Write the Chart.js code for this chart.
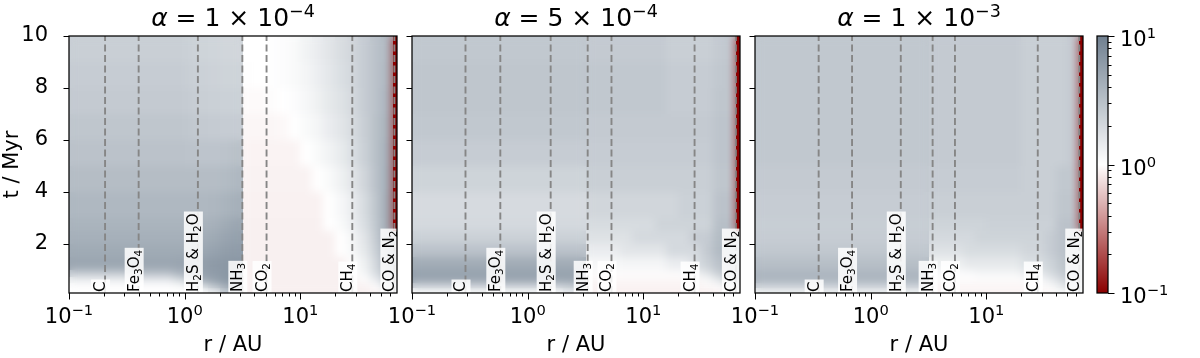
<!DOCTYPE html>
<html lang="es">
<head>
<meta charset="utf-8">
<title>N/H vs r, t</title>
<script src="https://cdn.jsdelivr.net/npm/chart.js@4.4.1/dist/chart.umd.min.js"></script>
<style>
  html, body { margin: 0; padding: 0; background: #fff; }
  #fig { position: relative; width: 1200px; height: 358px; overflow: hidden; background: #fff; }
  #fig canvas { position: absolute; top: 0; }
</style>
</head>
<body>
<div id="fig">
  <canvas id="p1" width="402" height="358" style="left:0px"></canvas>
  <canvas id="p2" width="375" height="358" style="left:370px"></canvas>
  <canvas id="p3" width="375" height="358" style="left:713px"></canvas>
  <canvas id="cb" width="110" height="358" style="left:1090px"></canvas>
</div>
<script>
// Datos: (N/H)/(N/H)_star en r (AU) y t (Myr)

const rEdges = [0.1, 0.126, 0.158, 0.2, 0.251, 0.316, 0.398, 0.501, 0.631, 0.794,
  1, 1.26, 1.58, 2, 2.51, 3.16, 3.98, 5.01, 6.31, 7.94,
  10, 12.6, 15.8, 20, 25.1, 31.6, 39.8, 50.1, 63.1, 68.4];
const tEdges = [0.1, 0.3, 0.5, 0.7, 1, 1.5, 2, 2.5, 3, 4, 5, 6, 7, 8, 9, 10];
// salto brusco en la línea de NH3 (borde de columna rEdges[15])
const jumpCol = 15;

const snowNames = ['C', 'Fe_3O_4', 'H_2S & H_2O', 'NH_3', 'CO_2', 'CH_4', 'CO & N_2'];
const snowR1 = [0.205, 0.40, 1.30, 3.15, 5.1, 28.1, 64.9];
const snowR2 = [0.29, 0.58, 1.58, 3.3, 5.3, 27.7, 63];
const snowR3 = [0.355, 0.69, 1.82, 3.43, 5.35, 27.8, 63.5];

const alphaMant = ['1', '5', '1'];
const alphaExp = ['−4', '−4', '−3'];

const xDecades = [0.1, 1, 10];
const tickMults = [1, 2, 3, 4, 5, 6, 7, 8, 9];
const yTickVals = [2, 4, 6, 8, 10];
const cbarDecades = [0.1, 1, 10];

// filas de abajo (t=0.1) hacia arriba (t=10), columnas según rEdges
const nh1 = [
  [1,1,1,1,1,1,1,1,1,1,1,1,1.3,2.5,4,0.87,0.87,0.87,0.87,0.87,0.87,0.87,0.87,0.87,0.87,0.87,0.9,1.2,1.8],
  [1.05,1.05,1.05,1.05,1.05,1.05,1.05,1.05,1.05,1.1,1.3,2,3.5,5,6,0.87,0.87,0.87,0.87,0.87,0.87,0.87,0.87,0.87,0.87,0.87,1,1.8,3],
  [1.3,1.3,1.3,1.3,1.3,1.4,1.4,1.4,1.4,1.8,2.8,4.5,5.5,6.5,6.5,0.87,0.87,0.87,0.87,0.87,0.87,0.87,0.87,0.87,0.87,1,1.4,2.5,4],
  [2.5,2.5,2.5,2.5,2.5,3,3,3,3,3.8,4.8,5.5,6,6.5,6.5,0.87,0.87,0.87,0.87,0.87,0.87,0.87,0.87,0.87,1,1.2,1.8,3.2,5],
  [5,5,5,5,5,5,5,5,5,5.2,5.5,5.8,6.2,6.5,6.5,0.87,0.87,0.87,0.87,0.87,0.87,0.87,0.87,0.87,1,1.3,2,3.8,6],
  [4.6,4.6,4.6,4.6,4.6,4.6,4.6,4.6,4.6,4.6,4.6,4.9,5.3,5.8,6,0.87,0.87,0.87,0.87,0.87,0.87,0.87,0.87,1,1.15,1.5,2.3,4.2,6.5],
  [4.2,4.2,4.2,4.2,4.2,4.2,4.2,4.2,4.2,4.2,4.2,4.4,4.7,5.2,5.5,0.87,0.87,0.87,0.87,0.87,0.87,0.87,0.87,1,1.2,1.6,2.5,4.5,7],
  [3.9,3.9,3.9,3.9,3.9,3.9,3.9,3.9,3.9,3.9,3.9,4,4.2,4.6,5,0.87,0.87,0.87,0.87,0.87,0.87,0.87,1,1.1,1.35,1.8,2.7,4.5,0.1],
  [3.6,3.6,3.6,3.6,3.6,3.6,3.6,3.6,3.6,3.6,3.6,3.6,3.7,3.9,4.2,0.88,0.88,0.88,0.88,0.88,0.88,0.88,1,1.15,1.4,1.9,2.8,4.5,0.1],
  [3.3,3.3,3.3,3.3,3.3,3.3,3.3,3.3,3.3,3.3,3.3,3.3,3.3,3.4,3.6,0.89,0.89,0.89,0.89,0.89,0.89,1,1.1,1.3,1.6,2.1,3,4.3,0.1],
  [3,3,3,3,3,3,3,3,3,3,2.95,2.9,2.9,2.95,3.1,0.9,0.9,0.9,0.9,0.9,1,1.1,1.25,1.45,1.8,2.3,3.1,4.2,0.1],
  [2.8,2.8,2.8,2.8,2.8,2.8,2.8,2.8,2.8,2.8,2.7,2.6,2.55,2.5,2.5,0.92,0.92,0.92,0.94,1,1.1,1.2,1.4,1.6,1.9,2.4,3.1,4,0.1],
  [2.6,2.6,2.6,2.6,2.6,2.6,2.6,2.6,2.6,2.6,2.5,2.4,2.35,2.3,2.3,0.96,0.96,0.97,1,1.05,1.15,1.3,1.5,1.7,2,2.5,3,3.8,0.1],
  [2.5,2.5,2.5,2.5,2.5,2.5,2.5,2.5,2.5,2.5,2.4,2.3,2.25,2.2,2.2,0.99,1,1.02,1.05,1.1,1.2,1.35,1.55,1.8,2.05,2.5,3,3.6,0.1],
  [2.4,2.4,2.4,2.4,2.4,2.4,2.4,2.4,2.4,2.4,2.3,2.2,2.15,2.1,2.1,1,1,1.02,1.05,1.1,1.25,1.4,1.6,1.85,2.1,2.5,3,3.5,0.1]
];

const nh2 = [
  [1.1,1.1,1.1,1.1,1.1,1.1,1.1,1.1,1.1,1.1,1.1,1.1,1.1,1.4,1.6,0.88,0.88,0.88,0.88,0.88,0.88,0.88,0.88,0.88,0.88,0.88,0.9,1,1.3],
  [2.5,2.5,2.5,2.5,2.5,2.5,2.5,2.5,2.5,2.5,2.5,2.5,2.5,2.8,3,0.9,0.9,0.9,0.9,0.9,0.9,0.9,0.9,0.9,0.9,0.95,1.05,1.5,2.2],
  [5,5,5,5,5,5,5,5,5,5,5,5,5,5,5,0.93,0.93,0.93,0.93,0.93,0.93,0.93,0.93,0.93,0.93,1.1,1.5,2.5,3],
  [5.5,5.5,5.5,5.5,5.5,5.5,5.5,5.5,5.5,5.5,5.5,5.5,5.5,5.5,5.5,0.97,0.97,0.97,0.97,0.97,0.97,0.97,0.97,1.05,1.2,1.6,2.4,3.2,3.5],
  [4.5,4.5,4.5,4.5,4.5,4.5,4.5,4.5,4.5,4.5,4.5,4.5,4.5,4.5,4.5,1.15,1.15,1.15,1.2,1.2,1.2,1.2,1.4,1.4,1.8,2.3,3,3.5,3.5],
  [3,3,3,3,3,3,3,3,3,3,3,3,3,3,3,1.4,1.4,1.4,1.6,1.6,1.6,1.6,2,2,2,2.6,3.5,3.5,3.5],
  [2.3,2.3,2.3,2.3,2.3,2.3,2.3,2.3,2.3,2.3,2.3,2.3,2.3,2.3,2.3,1.7,1.7,1.7,1.7,2,2,2,2,2,2.5,2.5,3.4,3.4,3.5],
  [2,2,2,2,2,2,2,2,2,2,2,2,2,2,2,1.9,1.9,1.9,1.9,1.9,1.9,2.2,2.2,2.2,2.2,2.2,3.2,3.2,0.1],
  [1.95,1.95,1.95,1.95,1.95,1.95,1.95,1.95,1.95,1.95,1.95,1.95,1.95,1.95,1.95,2.1,2.1,2.1,2.1,2.1,2.1,2.1,2.1,2.3,2.3,2.3,3,3,0.1],
  [2.2,2.2,2.2,2.2,2.2,2.2,2.2,2.2,2.2,2.2,2.2,2.2,2.2,2.2,2.2,2.4,2.4,2.4,2.4,2.4,2.4,2.4,2.4,2.4,2.4,2.4,2.8,2.8,0.1],
  [2.5,2.5,2.5,2.5,2.5,2.5,2.5,2.5,2.5,2.5,2.5,2.5,2.5,2.5,2.5,2.5,2.5,2.5,2.5,2.5,2.5,2.5,2.5,2.5,2.5,2.5,2.9,2.9,0.1],
  [2.7,2.7,2.7,2.7,2.7,2.7,2.7,2.7,2.7,2.7,2.7,2.7,2.7,2.7,2.7,2.6,2.6,2.6,2.6,2.6,2.6,2.6,2.6,2.6,2.6,2.6,2.9,2.9,0.1],
  [2.8,2.8,2.8,2.8,2.8,2.8,2.8,2.8,2.8,2.8,2.8,2.8,2.8,2.8,2.8,2.7,2.7,2.7,2.7,2.7,2.7,2.7,2.5,2.5,2.5,2.5,2.8,2.8,0.1],
  [2.8,2.8,2.8,2.8,2.8,2.8,2.8,2.8,2.8,2.8,2.8,2.8,2.8,2.8,2.8,2.7,2.7,2.7,2.7,2.7,2.7,2.7,2.5,2.5,2.5,2.5,2.7,2.8,0.1],
  [2.7,2.7,2.7,2.7,2.7,2.7,2.7,2.7,2.7,2.7,2.7,2.7,2.7,2.7,2.7,2.6,2.6,2.6,2.6,2.6,2.6,2.6,2.4,2.4,2.4,2.4,2.6,2.7,0.1]
];

const nh3 = [
  [1.3,1.3,1.3,1.3,1.3,1.3,1.3,1.3,1.3,1.3,1.3,1.3,1.3,1.3,1.3,0.9,0.9,0.9,0.9,0.9,0.9,0.9,0.9,0.9,0.9,0.95,1.1,1.5,2],
  [2.5,2.5,2.5,2.5,2.5,2.5,2.5,2.5,2.5,2.5,2.5,2.5,2.5,2.5,2.5,0.92,0.92,0.92,0.92,0.92,0.92,0.92,0.92,0.92,0.97,1.1,1.5,2.2,2.5],
  [3.8,3.8,3.8,3.8,3.8,3.8,3.8,3.8,3.8,3.8,3.8,3.8,3.8,3.8,3.8,0.97,0.97,0.97,0.97,0.97,0.97,0.97,0.97,1.05,1.05,1.4,2,2.6,2.8],
  [3.8,3.8,3.8,3.8,3.8,3.8,3.8,3.8,3.8,3.8,3.8,3.8,3.8,3.8,3.8,1.05,1.05,1.05,1.05,1.15,1.15,1.15,1.15,1.4,1.4,1.9,2.5,3,3],
  [3.2,3.2,3.2,3.2,3.2,3.2,3.2,3.2,3.2,3.2,3.2,3.2,3.2,3.2,3.2,1.3,1.3,1.3,1.5,1.5,1.5,1.5,1.5,1.8,1.8,2.2,2.8,3,3],
  [2.7,2.7,2.7,2.7,2.7,2.7,2.7,2.7,2.7,2.7,2.7,2.7,2.7,2.7,2.7,1.7,1.7,1.7,1.9,1.9,1.9,1.9,1.9,2.1,2.1,2.5,3,3,3],
  [2.5,2.5,2.5,2.5,2.5,2.5,2.5,2.5,2.5,2.5,2.5,2.5,2.5,2.5,2.5,2,2,2,2,2.2,2.2,2.2,2.2,2.2,2.2,2.5,3,3,3],
  [2.45,2.45,2.45,2.45,2.45,2.45,2.45,2.45,2.45,2.45,2.45,2.45,2.45,2.45,2.45,2.2,2.2,2.2,2.2,2.2,2.3,2.3,2.3,2.3,2.3,2.3,3,3,0.1],
  [2.5,2.5,2.5,2.5,2.5,2.5,2.5,2.5,2.5,2.5,2.5,2.5,2.5,2.5,2.5,2.4,2.4,2.4,2.4,2.4,2.4,2.4,2.4,2.4,2.4,2.4,2.8,2.8,0.1],
  [2.6,2.6,2.6,2.6,2.6,2.6,2.6,2.6,2.6,2.6,2.6,2.6,2.6,2.6,2.6,2.5,2.5,2.5,2.5,2.5,2.5,2.5,2.5,2.4,2.4,2.4,2.7,2.7,0.1],
  [2.7,2.7,2.7,2.7,2.7,2.7,2.7,2.7,2.7,2.7,2.7,2.7,2.7,2.7,2.7,2.6,2.6,2.6,2.6,2.6,2.6,2.6,2.6,2.4,2.4,2.4,2.4,2.6,0.1],
  [2.7,2.7,2.7,2.7,2.7,2.7,2.7,2.7,2.7,2.7,2.7,2.7,2.7,2.7,2.7,2.6,2.6,2.6,2.6,2.6,2.6,2.6,2.6,2.4,2.4,2.4,2.4,2.6,0.1],
  [2.7,2.7,2.7,2.7,2.7,2.7,2.7,2.7,2.7,2.7,2.7,2.7,2.7,2.7,2.7,2.6,2.6,2.6,2.6,2.6,2.6,2.6,2.6,2.4,2.4,2.4,2.4,2.6,0.1],
  [2.7,2.7,2.7,2.7,2.7,2.7,2.7,2.7,2.7,2.7,2.7,2.7,2.7,2.7,2.7,2.6,2.6,2.6,2.6,2.6,2.6,2.6,2.6,2.4,2.4,2.4,2.4,2.6,0.1],
  [2.7,2.7,2.7,2.7,2.7,2.7,2.7,2.7,2.7,2.7,2.7,2.7,2.7,2.7,2.7,2.6,2.6,2.6,2.6,2.6,2.6,2.6,2.6,2.4,2.4,2.4,2.4,2.6,0.1]
];

const R_MIN = rEdges[0], R_MAX = rEdges[rEdges.length - 1];
const T_MIN = tEdges[0], T_MAX = tEdges[tEdges.length - 1];

const FONT = "'DejaVu Sans', sans-serif";
const TICK_SIZE = 21;
const LABEL_SIZE = 15;

// Mapa de colores: darkred -> white -> slategray, norma logarítmica 0.1..10
const C_LO = [139, 0, 0], C_MID = [255, 255, 255], C_HI = [112, 128, 144];
function cmap(v) {
  let l = Math.log10(v);
  l = Math.max(-1, Math.min(1, l));
  const end = l >= 0 ? C_HI : C_LO;
  const f = Math.abs(l);
  const c = C_MID.map((m, i) => Math.round(m + (end[i] - m) * f));
  return `rgb(${c[0]},${c[1]},${c[2]})`;
}

// Texto con subíndices / superíndices sencillos
function parseSub(s) {
  const out = [];
  let buf = '';
  for (let i = 0; i < s.length; i++) {
    if (s[i] === '_') {
      if (buf) out.push({ t: buf });
      buf = '';
      out.push({ t: s[i + 1], sub: true });
      i++;
    } else buf += s[i];
  }
  if (buf) out.push({ t: buf });
  return out;
}
function fontFor(p, size) {
  const s = (p.sub || p.sup) ? size * 0.7 : size;
  return (p.it ? 'italic ' : '') + s.toFixed(2) + 'px ' + FONT;
}
function partsWidth(ctx, parts, size) {
  let w = 0;
  parts.forEach((p) => { ctx.font = fontFor(p, size); w += ctx.measureText(p.t).width; });
  return w;
}
function drawParts(ctx, parts, x, y, size, align) {
  const w = partsWidth(ctx, parts, size);
  let cx = align === 'center' ? x - w / 2 : x;
  ctx.textAlign = 'left';
  ctx.textBaseline = 'alphabetic';
  parts.forEach((p) => {
    ctx.font = fontFor(p, size);
    const dy = p.sub ? size * 0.2 : p.sup ? -size * 0.38 : 0;
    ctx.fillText(p.t, cx, y + dy);
    cx += ctx.measureText(p.t).width;
  });
  return w;
}
function expStr(v) {
  const e = Math.round(Math.log10(v));
  return e < 0 ? '−' + Math.abs(e) : String(e);
}

// Mapa de calor con las escalas del gráfico; suavizado a cada lado del salto de NH3
function heatPlugin(grid) {
  return {
    id: 'heat',
    beforeDatasetsDraw(chart) {
      const { ctx, chartArea: a, scales: { x, y } } = chart;
      const off = document.createElement('canvas');
      off.width = chart.width;
      off.height = chart.height;
      const o = off.getContext('2d');
      const sharp = [];
      const ncol = rEdges.length - 1;
      [[0, jumpCol], [jumpCol, ncol]].forEach(([c0, c1]) => {
        o.clearRect(0, 0, off.width, off.height);
        grid.forEach((row, i) => {
          const y0 = Math.round(y.getPixelForValue(tEdges[i + 1]));
          const y1 = Math.round(y.getPixelForValue(tEdges[i]));
          for (let j = c0; j < c1; j++) {
            const v = row[j];
            const x0 = Math.round(x.getPixelForValue(rEdges[j]));
            const x1 = Math.round(x.getPixelForValue(rEdges[j + 1]));
            o.fillStyle = cmap(v);
            o.fillRect(x0, y0, x1 - x0, y1 - y0);
            if (v < 0.5) sharp.push([x0, y0, x1 - x0, y1 - y0, cmap(v)]);
          }
        });
        const xa = Math.max(a.left, Math.round(x.getPixelForValue(rEdges[c0])));
        const xb = Math.min(a.right, Math.round(x.getPixelForValue(rEdges[c1])));
        ctx.save();
        ctx.beginPath();
        ctx.rect(xa, a.top, xb - xa, a.height);
        ctx.clip();
        ctx.drawImage(off, 0, 0);
        ctx.filter = 'blur(4px)';
        ctx.drawImage(off, 0, 0);
        ctx.filter = 'none';
        ctx.restore();
      });
      ctx.save();
      ctx.beginPath();
      ctx.rect(a.left, a.top, a.width, a.height);
      ctx.clip();
      sharp.forEach((c) => { ctx.fillStyle = c[4]; ctx.fillRect(c[0], c[1], c[2], c[3]); });
      ctx.restore();
    }
  };
}

// Etiquetas de líneas de hielo, marco, ticks y título
function decoPlugin(snow, title) {
  return {
    id: 'deco',
    afterDatasetsDraw(chart) {
      const { ctx, chartArea: a, scales: { x } } = chart;
      ctx.save();
      ctx.beginPath();
      ctx.rect(a.left, a.top, a.width, a.height);
      ctx.clip();
      snow.forEach((r, i) => {
        const parts = parseSub(snowNames[i]);
        const px = x.getPixelForValue(r);
        ctx.save();
        ctx.translate(px, a.bottom);
        ctx.rotate(-Math.PI / 2);
        const w = partsWidth(ctx, parts, LABEL_SIZE);
        ctx.fillStyle = 'rgba(255,255,255,0.85)';
        ctx.fillRect(-4, -14, w + 7, 19);
        ctx.fillStyle = '#000';
        drawParts(ctx, parts, 1, 0, LABEL_SIZE, 'left');
        ctx.restore();
      });
      ctx.restore();
    },
    afterDraw(chart) {
      const { ctx, chartArea: a, scales: { x, y } } = chart;
      ctx.save();
      ctx.strokeStyle = '#000';
      ctx.lineWidth = 1;
      ctx.beginPath();
      xDecades.forEach((d) => {
        tickMults.forEach((m) => {
          const v = d * m;
          if (v < R_MIN * 0.999 || v > R_MAX) return;
          const px = Math.round(x.getPixelForValue(v)) + 0.5;
          ctx.moveTo(px, a.bottom);
          ctx.lineTo(px, a.bottom + (m === 1 ? 6.5 : 3.5));
        });
      });
      yTickVals.forEach((v) => {
        const py = Math.round(y.getPixelForValue(v)) + 0.5;
        ctx.moveTo(a.left, py);
        ctx.lineTo(a.left - 5.5, py);
      });
      ctx.stroke();
      ctx.lineWidth = 1.25;
      ctx.strokeRect(a.left, a.top, a.width, a.height);

      ctx.fillStyle = '#000';
      xDecades.forEach((d) => {
        const px = x.getPixelForValue(d);
        drawParts(ctx, [{ t: '10' }, { t: expStr(d), sup: true }], px, 323, TICK_SIZE, 'center');
      });
      drawParts(ctx, title, (a.left + a.right) / 2, 26, 25, 'center');
      ctx.restore();
    }
  };
}

function makePanel(id, grid, snow, k, leftW, showY) {
  const title = [{ t: 'α', it: true }, { t: ' = ' + alphaMant[k] + ' × 10' }, { t: alphaExp[k], sup: true }];
  return new Chart(document.getElementById(id), {
    type: 'scatter',
    data: {
      datasets: snow.map((r) => ({
        data: [{ x: r, y: T_MIN }, { x: r, y: T_MAX }],
        showLine: true,
        borderColor: '#868686',
        borderWidth: 1.9,
        borderDash: [7, 3.5],
        pointRadius: 0
      }))
    },
    options: {
      responsive: false,
      animation: false,
      devicePixelRatio: 1,
      events: [],
      layout: { padding: { top: 36, right: 5, left: 0, bottom: 0 } },
      plugins: { legend: { display: false }, tooltip: { enabled: false } },
      scales: {
        x: {
          type: 'logarithmic', min: R_MIN, max: R_MAX,
          grid: { display: false }, border: { display: false },
          ticks: { display: false },
          title: { display: true, text: 'r / AU', color: '#000', font: { family: FONT, size: TICK_SIZE }, padding: { top: 0, bottom: 0 } },
          afterFit: (s) => { s.height = 65; }
        },
        y: {
          type: 'linear', min: T_MIN, max: T_MAX,
          grid: { display: false }, border: { display: false },
          afterBuildTicks: (s) => { s.ticks = yTickVals.map((v) => ({ value: v })); },
          ticks: { display: showY, padding: 13, color: '#000', font: { family: FONT, size: TICK_SIZE } },
          title: { display: showY, text: 't / Myr', color: '#000', font: { family: FONT, size: TICK_SIZE }, padding: { top: 0, bottom: 0 } },
          afterFit: (s) => { s.width = leftW; }
        }
      }
    },
    plugins: [heatPlugin(grid), decoPlugin(snow, title)]
  });
}

makePanel('p1', nh1, snowR1, 0, 69, true);
makePanel('p2', nh2, snowR2, 1, 42, false);
makePanel('p3', nh3, snowR3, 2, 42, false);

// Barra de color
const cbarPlugin = {
  id: 'cbar',
  afterDraw(chart) {
    const { ctx, chartArea: a, scales: { y } } = chart;
    ctx.save();
    for (let py = Math.floor(a.top); py < a.bottom; py++) {
      ctx.fillStyle = cmap(y.getValueForPixel(py + 0.5));
      ctx.fillRect(a.left, py, a.width, 1);
    }
    ctx.strokeStyle = '#000';
    ctx.lineWidth = 1.25;
    ctx.strokeRect(a.left, a.top, a.width, a.height);
    ctx.lineWidth = 1;
    ctx.beginPath();
    cbarDecades.forEach((d) => {
      tickMults.forEach((m) => {
        const v = d * m;
        if (v > 10.001) return;
        const py = Math.round(y.getPixelForValue(v)) + 0.5;
        ctx.moveTo(a.right, py);
        ctx.lineTo(a.right + (m === 1 ? 6.5 : 3.5), py);
      });
    });
    ctx.stroke();
    ctx.fillStyle = '#000';
    cbarDecades.forEach((d) => {
      const py = y.getPixelForValue(d);
      drawParts(ctx, [{ t: '10' }, { t: expStr(d), sup: true }], a.right + 12, py + 10, TICK_SIZE, 'left');
    });
    ctx.translate(1194, (a.top + a.bottom) / 2);
    ctx.rotate(-Math.PI / 2);
    drawParts(ctx, [{ t: '(N/H)/(N/H)' }, { t: 'star', sub: true }], 0, 0, 23, 'center');
    ctx.restore();
  }
};

new Chart(document.getElementById('cb'), {
  type: 'scatter',
  data: { datasets: [] },
  options: {
    responsive: false,
    animation: false,
    devicePixelRatio: 1,
    events: [],
    layout: { padding: { left: 7, right: 92, top: 36, bottom: 65 } },
    plugins: { legend: { display: false }, tooltip: { enabled: false } },
    scales: {
      x: { display: false },
      y: { type: 'logarithmic', display: false, min: 0.1, max: 10 }
    }
  },
  plugins: [cbarPlugin]
});
</script>
</body>
</html>
